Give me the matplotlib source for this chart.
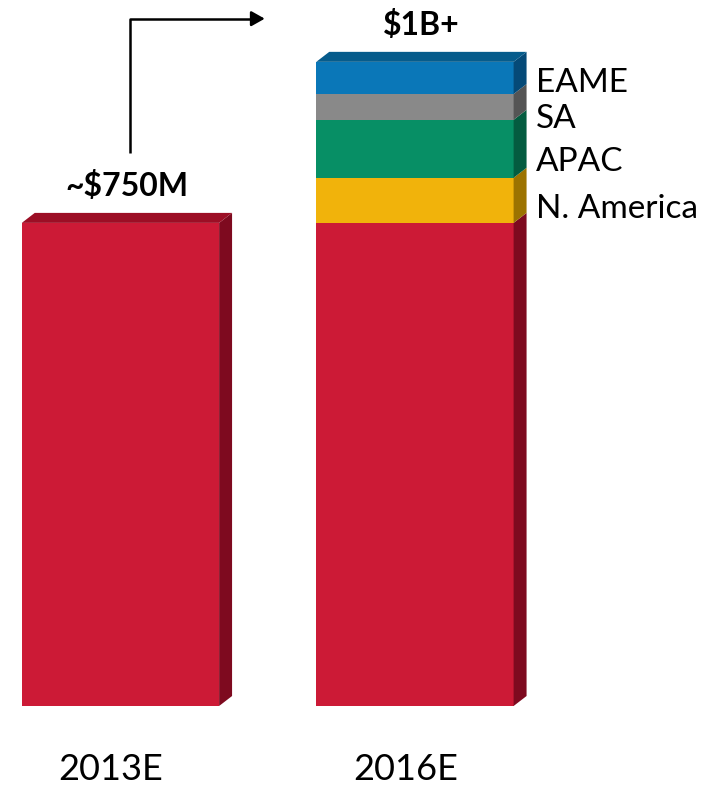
import matplotlib
matplotlib.use("Agg")
import matplotlib.pyplot as plt
from matplotlib.patches import Polygon

plt.rcParams["font.family"] = ["Lato", "DejaVu Sans"]

# ── data ($M) ──────────────────────────────────────────────────────────
years = ["2013E", "2016E"]
base_values = [750, 750]
regions = ["N. America", "APAC", "SA", "EAME"]
region_values = [70, 90, 40, 50]           # added on top of 2016E base
bar_labels = ["~$750M", "$1B+"]

# ── styling ────────────────────────────────────────────────────────────
base_colors = ("#CC1A36", "#9C0E25", "#7E0A1F")          # front, top, side
region_colors = [
    ("#F1B30B", "#C08D05", "#9C7300"),
    ("#078F65", "#05704F", "#045C40"),
    ("#898989", "#6A6A6A", "#555555"),
    ("#0A77B8", "#065C8C", "#054A78"),
]
region_label_nudge = [-13, -16, -15, -10]  # points, baseline below mid
width = 0.67
dx, dy = 0.044, 15.5                       # fake 3-D depth, data units

fig = plt.figure(figsize=(7.23, 7.89), dpi=100)
ax = fig.add_axes([0, 0.1052, 1, 0.8948])
ax.set_xlim(-0.409, 2.046)
ax.set_ylim(0, 1096)
ax.axis("off")


def block(x, bottom, height, colors, top_face):
    front, top, side = colors
    x0, x1 = x - width / 2, x + width / 2
    t = bottom + height
    ax.bar(x, height, width, bottom=bottom, color=front, linewidth=0)
    ax.add_patch(Polygon([(x1, bottom), (x1 + dx, bottom + dy),
                          (x1 + dx, t + dy), (x1, t)],
                         closed=True, facecolor=side, linewidth=0))
    if top_face:
        ax.add_patch(Polygon([(x0, t), (x1, t), (x1 + dx, t + dy),
                              (x0 + dx, t + dy)],
                             closed=True, facecolor=top, linewidth=0))


# 2013E
block(0, 0, base_values[0], base_colors, True)

# 2016E stacked
block(1, 0, base_values[1], base_colors, False)
bottom = base_values[1]
for i, (name, val, cols) in enumerate(zip(regions, region_values, region_colors)):
    block(1, bottom, val, cols, i == len(regions) - 1)
    ax.annotate(name, xy=(1 + width / 2 + dx, bottom + val / 2),
                xytext=(7, region_label_nudge[i]), textcoords="offset points",
                ha="left", va="baseline", fontsize=24, color="black")
    bottom += val

totals = [base_values[0], base_values[1] + sum(region_values)]

# value labels above bars
for i, (tot, lab) in enumerate(zip(totals, bar_labels)):
    ax.annotate(lab, xy=(i + dx / 2, tot), xytext=(0, 19),
                textcoords="offset points", ha="center", va="baseline",
                fontsize=23, fontweight="bold", color="black")

# year labels under bars
for i, yr in enumerate(years):
    ax.annotate(yr, xy=(i, 0), xytext=(-7, -53), textcoords="offset points",
                ha="center", va="baseline", fontsize=26, color="black",
                annotation_clip=False)

# growth arrow from 2013E label toward 2016E
ax_x, arr_low, arr_high, arr_end = 0.032, totals[0] + 109, 1067, 0.49
ax.plot([ax_x, ax_x, arr_end - 0.03], [arr_low, arr_high, arr_high],
        color="black", lw=1.8, solid_capstyle="butt")
ax.annotate("", xy=(arr_end, arr_high), xytext=(arr_end - 0.04, arr_high),
            arrowprops=dict(arrowstyle="-|>,head_length=0.8,head_width=0.45",
                            color="black", lw=1.8, shrinkA=0, shrinkB=0))

fig.savefig("out.png", dpi=100)
